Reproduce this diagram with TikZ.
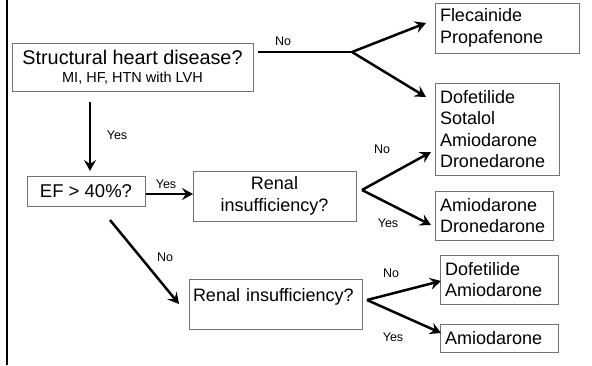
\documentclass[tikz,border=0pt]{standalone}
\usepackage{fontspec}
\setmainfont{Liberation Sans}
\usetikzlibrary{arrows.meta}
\begin{document}
\begin{tikzpicture}[x=1pt,y=-1pt,
  box/.style={draw=black!55,line width=0.8pt,inner sep=0pt,outer sep=0pt,
    font=\fontsize{18}{21.6}\selectfont},
  lbl/.style={font=\fontsize{12.5}{14}\selectfont},
  arr/.style={line width=2.5pt,-{Stealth[length=11pt,width=12pt,inset=4pt]}},
  ln/.style={line width=2.5pt}]
\useasboundingbox (0,0) rectangle (592,365);
\draw[line width=2.3pt] (7,0) -- (7,365);
\node[box,minimum width=241pt,minimum height=48pt,align=center] (shd) at (132.5,67)
  {{\fontsize{19.8}{22}\selectfont Structural heart disease?}\\[-4pt]{\fontsize{14.5}{16}\selectfont MI, HF, HTN with LVH}};
\node[box,minimum width=144pt,minimum height=50pt,text width=134pt,align=left] (flec) at (507,28)
  {Flecainide\\Propafenone};
\node[box,minimum width=124pt,minimum height=92pt,text width=114pt,align=left] (dsad) at (497,129)
  {Dofetilide\\Sotalol\\Amiodarone\\Dronedarone};
\node[box,minimum width=118pt,minimum height=30pt,font=\fontsize{18.5}{21}\selectfont] (ef) at (86,191) {EF > 40\%?};
\node[box,minimum width=163pt,minimum height=50pt,align=center] (ren1) at (274.5,196)
  {Renal\\insufficiency?};
\node[box,minimum width=118pt,minimum height=49pt,text width=108pt,align=left] (ad) at (494,215.5)
  {Amiodarone\\Dronedarone};
\node[box,minimum width=173pt,minimum height=50pt,text width=165pt,align=left,
  text depth=19pt] (ren2) at (275.5,304) {Renal insufficiency?};
\node[box,minimum width=118pt,minimum height=49pt,text width=108pt,align=left] (da) at (499,279.5)
  {Dofetilide\\Amiodarone};
\node[box,minimum width=118pt,minimum height=28pt,text width=108pt,align=left] (am) at (499,338)
  {Amiodarone};
% branch points
\coordinate (s1) at (258,52);
\coordinate (b1) at (352,52);
\coordinate (b2) at (362,190);
\coordinate (b3) at (367,300);
\draw[ln] (s1) -- (b1);
\draw[arr] (b1) -- (426,23);
\draw[arr] (b1) -- (426,97);
\draw[arr] (90,102) -- (90,171);
\draw[arr] (ef.east) ++(1,3) -- (ren1.west |- 0,194);
\draw[arr] (110,220) -- (179,304);
\draw[arr] (b2) -- (431,152);
\draw[arr] (b2) -- (431,225);
\draw[arr] (b3) -- (441,281);
\draw[arr] (b3) -- (441,333);
% labels
\node[lbl] (no1) at (283,41) {No};
\node[lbl] (yes1) at (117,135) {Yes};
\node[lbl] (yes2) at (166,184) {Yes};
\node[lbl] (no2) at (165,257) {No};
\node[lbl] (no3) at (382,149) {No};
\node[lbl] (yes3) at (388,223) {Yes};
\node[lbl] (no4) at (391,273) {No};
\node[lbl] (yes4) at (393,337) {Yes};
\end{tikzpicture}
\end{document}
